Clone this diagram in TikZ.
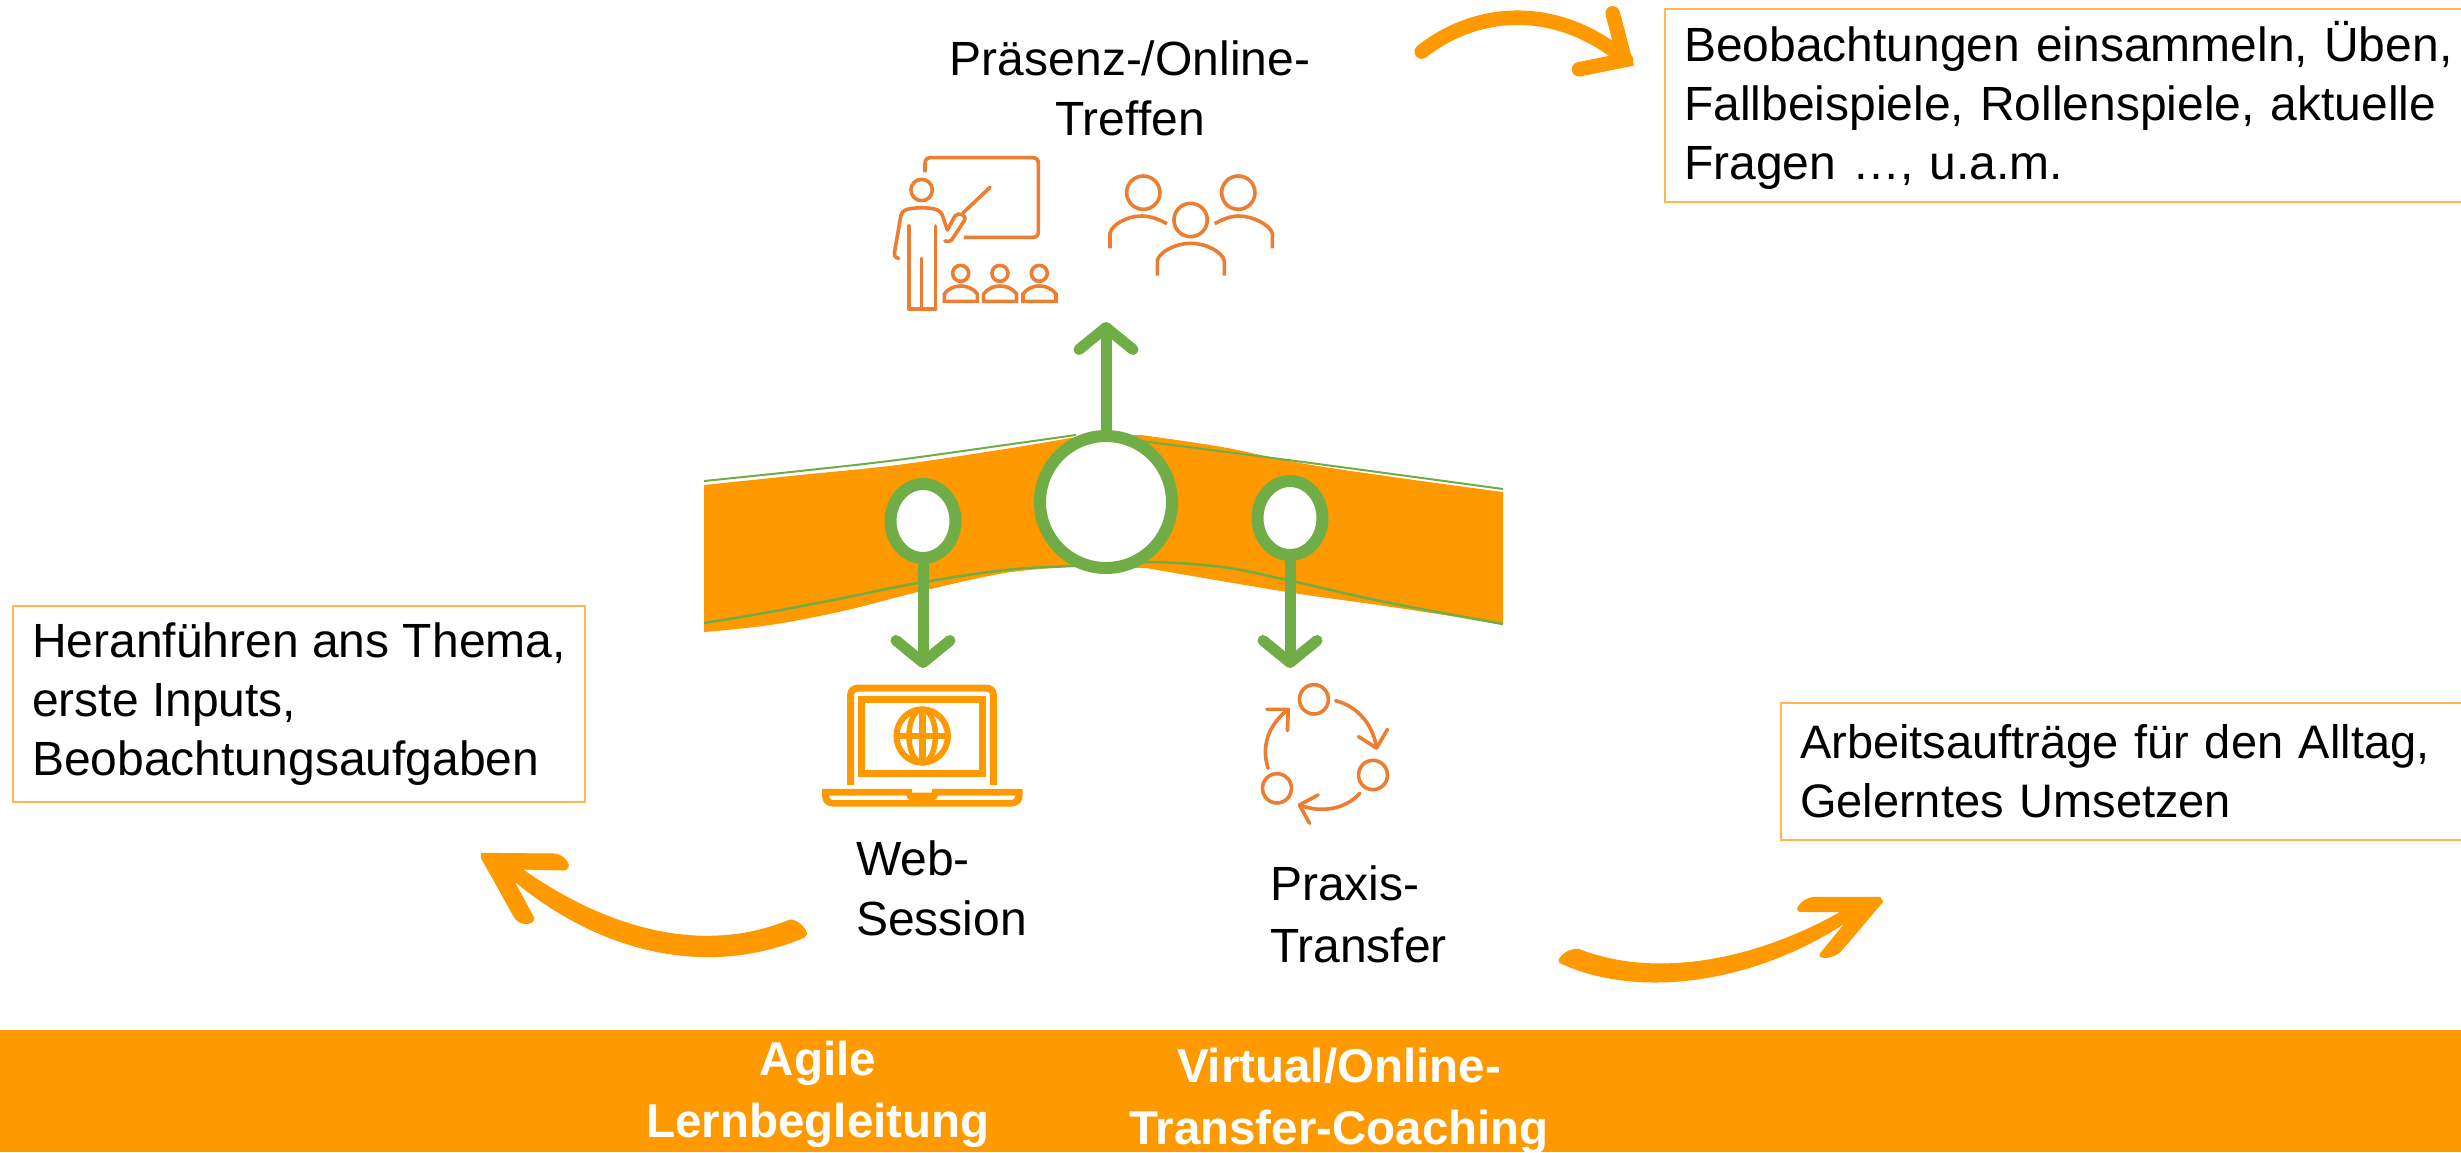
\documentclass[tikz,border=0pt]{standalone}
\usepackage{fontspec}
\setmainfont{Liberation Sans}
\usetikzlibrary{shapes.geometric,arrows.meta}
\definecolor{bandorange}{HTML}{FF9900}
\definecolor{boxline}{HTML}{FFB84D}
\definecolor{icon}{HTML}{ED7D31}
\definecolor{leaf}{HTML}{70AD47}
\tikzset{
  label text/.style={font=\fontsize{48}{60}\selectfont\frenchspacing,inner sep=0pt,outer sep=0pt,align=left,text=black},
  bar text/.style={font=\fontsize{47.5}{62}\selectfont\bfseries,inner sep=0pt,outer sep=0pt,align=center,text=white},
  note box/.style={label text,font=\fontsize{48}{59}\selectfont\frenchspacing,draw=boxline,line width=2pt,fill=white,inner xsep=19pt,inner ysep=0pt,anchor=north west},
  ring/.style={ellipse,draw=leaf,fill=white,line width=12pt,inner sep=0pt,outer sep=0pt},
  green arrow/.style={draw=leaf,line width=11pt,-{Straight Barb[length=22pt,width=54pt,round]}},
  icon line/.style={draw=icon,line width=3.6pt,line cap=round,line join=round},
  laptop line/.style={draw=bandorange,line width=7pt},
  swoosh/.style={fill=bandorange,draw=bandorange,line width=1pt,line join=round},
}
\begin{document}
\begin{tikzpicture}[x=1pt,y=-1pt]
\useasboundingbox (0,0) rectangle (2461,1152);
% bottom bar
\fill[bandorange] (0,1030) rectangle (2461,1152);
% band
\fill[bandorange] plot[smooth,tension=0.6] coordinates {(704,485) (800,475) (897,465) (1005,449) (1076,437)}
  -- plot[smooth,tension=0.6] coordinates {(1141,435) (1222,447) (1300,463) (1400,478) (1503,492)}
  -- plot[smooth,tension=0.6] coordinates {(1503,624) (1385,606) (1287,592) (1146,568)}
  -- plot[smooth,tension=0.6] coordinates {(1070,567) (1005,573) (918,592) (843,611) (770,625) (704,632)} -- cycle;
\draw[leaf,line width=2pt] plot[smooth,tension=0.6] coordinates {(704,481) (800,471) (897,460) (1005,445) (1076,435)};
\draw[leaf,line width=2pt] plot[smooth,tension=0.6] coordinates {(1141,441) (1303,462) (1503,489)};
\draw[leaf,line width=2.5pt] plot[smooth,tension=0.6] coordinates {(704,623) (770,612) (843,598) (918,583) (1005,570) (1070,566) (1146,562) (1222,567) (1287,580) (1385,602) (1503,624)};
% rings
\node[ring,minimum width=132pt,minimum height=132pt] (hub) at (1106,502) {};
\node[ring,minimum width=65pt,minimum height=74pt] (web) at (923,521) {};
\node[ring,minimum width=65pt,minimum height=74pt] (prax) at (1290,518) {};
% green arrows
\coordinate (hubtip) at (1106,322);
\coordinate (webtip) at (923,668);
\coordinate (praxtip) at (1290,668);
\draw[green arrow] (hub.north) -- (hubtip);
\draw[green arrow] (web.south) -- (webtip);
\draw[green arrow] (prax.south) -- (praxtip);
% teacher + group icons
\begin{scope}[shift={(840,130)},x=0.3333pt,y=-0.3333pt]
  \draw[icon line,line cap=butt] (255,127) -- (255,100) .. controls (255,88) and (262,83) .. (272,83) -- (578,83) .. controls (590,83) and (595,90) .. (595,100) -- (595,305) .. controls (595,316) and (590,322) .. (578,322) -- (372,322);
  \draw[icon line] (245,180) circle[radius=32];
  \draw[icon line] (176,385) .. controls (166,383) and (162,378) .. (163,370) -- (183,255) .. controls (187,240) and (200,235) .. (245,233) .. controls (290,235) and (300,240) .. (307,255) -- (322,300) -- (345,258) .. controls (355,245) and (382,255) .. (373,272) -- (335,330) .. controls (330,336) and (322,335) .. (315,333);
  \draw[icon line] (370,248) -- (450,172);
  \draw[icon line] (207,288) -- (207,537);
  \draw[icon line] (287,288) -- (287,537);
  \draw[icon line] (207,537) -- (287,537);
  \draw[icon line] (245,385) -- (245,537);
  \foreach \sx in {0,118,236}{
    \draw[icon line,shift={(\sx,0)}] (362,430) circle[radius=24];
    \draw[icon line,shift={(\sx,0)},line cap=butt,line join=miter] (313,514) -- (313,492) .. controls (325,475) and (345,468) .. (362,468) .. controls (380,468) and (400,475) .. (412,492) -- (412,514) -- cycle;
  }
  \draw[icon line] (910,188) circle[radius=50];
  \draw[icon line] (1195,188) circle[radius=50];
  \draw[icon line] (1052,270) circle[radius=50];
  \draw[icon line,line cap=butt] (810,355) -- (810,310) .. controls (815,285) and (860,258) .. (905,258) .. controls (935,258) and (960,270) .. (981,281);
  \draw[icon line,line cap=butt] (1124,281) .. controls (1145,270) and (1170,258) .. (1195,258) .. controls (1240,258) and (1290,285) .. (1297,310) -- (1297,355);
  \draw[icon line,line cap=butt] (952,437) -- (952,392) .. controls (957,367) and (1005,340) .. (1052,340) .. controls (1100,340) and (1148,367) .. (1153,392) -- (1153,437);
\end{scope}
% laptop + cycle icons
\begin{scope}[shift={(790,660)},x=0.4018pt,y=-0.3333pt]
  \draw[laptop line,line join=round] (151,375) -- (151,105) .. controls (151,90) and (160,84) .. (172,84) -- (486,84) .. controls (498,84) and (506,90) .. (506,105) -- (506,375);
  \draw[laptop line] (178,118) rectangle (479,339);
  \draw[draw=bandorange,line width=6pt] (329,228) ellipse[x radius=64,y radius=80];
  \draw[draw=bandorange,line width=5.5pt] (329,228) ellipse[x radius=33,y radius=80];
  \draw[draw=bandorange,line width=7pt] (329,148) -- (329,308);
  \draw[draw=bandorange,line width=6.5pt] (265,228) -- (393,228);
  \fill[bandorange] (80,387) -- (304,387) -- (304,398) -- (353,398) -- (353,387) -- (579,387) -- (579,410) .. controls (579,428) and (565,440) .. (550,440) -- (108,440) .. controls (92,440) and (80,428) .. (80,410) -- cycle;
  \fill[white] (97,407) -- (290,407) .. controls (290,414) and (293,418) .. (298,420) -- (110,420) .. controls (102,420) and (97,414) .. (97,407) -- cycle;
  \fill[white] (368,407) -- (561,407) .. controls (561,414) and (556,420) .. (548,420) -- (360,420) .. controls (365,418) and (368,414) .. (368,407) -- cycle;
  \draw[icon line] (1304,118) ellipse[x radius=36,y radius=44];
  \draw[icon line] (1451,345) ellipse[x radius=36,y radius=44];
  \draw[icon line] (1212,385) ellipse[x radius=36,y radius=44];
  \draw[icon line] (1358,122) .. controls (1415,140) and (1450,195) .. (1460,262);
  \draw[icon line] (1415,230) -- (1460,264) -- (1487,208);
  \draw[icon line] (1418,400) .. controls (1385,445) and (1325,462) .. (1268,435);
  \draw[icon line] (1314,405) -- (1268,435) -- (1293,490);
  \draw[icon line] (1190,325) .. controls (1172,260) and (1190,195) .. (1240,148);
  \draw[icon line] (1187,148) -- (1240,148) -- (1238,212);
\end{scope}
% swooshes
\begin{scope}[shift={(1400,0)},x=0.3333pt,y=-0.3333pt]
  \draw[draw=bandorange,line width=14.5pt,line cap=round,line join=round] (65,155) .. controls (230,25) and (470,5) .. (678,180);
  \draw[draw=bandorange,line width=14.5pt,line cap=round,line join=miter] (638,40) -- (675,180) -- (537,208);
\end{scope}
\begin{scope}[shift={(460,830)},x=0.3333pt,y=-0.3333pt]
  \path[swoosh] (65,70) -- (285,72) .. controls (305,75) and (322,90) .. (325,105) .. controls (325,115) and (318,120) .. (308,120) -- (185,117) .. controls (400,270) and (700,390) .. (990,270) .. controls (1010,270) and (1035,290) .. (1040,312) -- (1032,322) .. controls (750,440) and (430,375) .. (160,150) -- (222,265) .. controls (222,285) and (175,290) .. (160,255) -- (65,85) -- cycle;
\end{scope}
\begin{scope}[shift={(1540,880)},x=0.3333pt,y=-0.3333pt]
  \path[swoosh] (57,240) .. controls (65,222) and (90,207) .. (115,208) .. controls (350,300) and (650,240) .. (905,95) -- (785,95) .. controls (775,95) and (770,88) .. (775,80) .. controls (785,65) and (805,52) .. (825,52) -- (1020,52) -- (1028,65) -- (905,210) .. controls (885,232) and (850,237) .. (840,228) -- (842,220) -- (920,125) .. controls (650,305) and (300,360) .. (60,248) -- cycle;
\end{scope}
% note boxes
\node[note box,minimum height=193pt,text width=800pt] (notetop) at (1665,9) {Beobachtungen einsammeln, Üben,\\Fallbeispiele, Rollenspiele, aktuelle\\Fragen …, u.a.m.};
\node[note box,inner xsep=0pt,minimum height=196pt,minimum width=572pt] (noteleft) at (13,606) {Heranführen ans Thema,\\erste Inputs,\\Beobachtungsaufgaben};
\node[note box,font=\fontsize{47}{59}\selectfont\frenchspacing,minimum height=137pt,text width=700pt] (noteright) at (1781,703) {Arbeitsaufträge für den Alltag,\\Gelerntes Umsetzen};
% labels
\node[label text,align=center,anchor=north] (ltop) at (1130,41) {Präsenz-/Online-\\Treffen};
\node[label text,anchor=north west] (lweb) at (856,841) {Web-\\Session};
\node[label text,anchor=north west] (lprax) at (1270,866) {Praxis-\\[2pt]Transfer};
\node[bar text,anchor=north] (lagile) at (818,1041) {Agile\\Lernbegleitung};
\node[bar text,anchor=north] (lvirt) at (1339,1048) {Virtual/Online-\\Transfer-Coaching};
\end{tikzpicture}
\end{document}
